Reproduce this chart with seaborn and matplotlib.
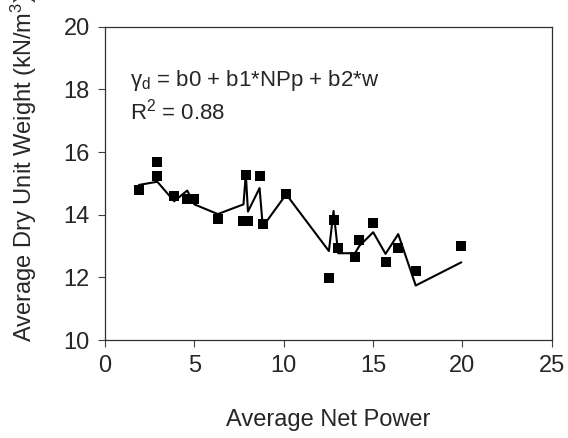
import pandas as pd
import seaborn as sns
import matplotlib.pyplot as plt

# measured points (Average Net Power vs Average Dry Unit Weight)
net_power = [1.9, 2.9, 2.93, 3.87, 4.6, 5.0, 6.31, 7.75, 7.88, 8.0, 8.65, 8.83,
             10.14, 12.53, 12.79, 13.05, 13.99, 14.23, 15.01, 15.7, 16.41, 17.39, 19.94]
dry_unit_weight = [14.8, 15.69, 15.22, 14.61, 14.5, 14.5, 13.85, 13.81, 15.26, 13.81, 15.24, 13.71,
                   14.67, 11.99, 13.82, 12.93, 12.64, 13.2, 13.73, 12.48, 12.95, 12.19, 13.01]
# fitted values from the regression model
predicted = [14.95, 15.05, 15.05, 14.43, 14.77, 14.33, 14.02, 14.33, 15.3, 14.1, 14.85, 13.62,
             14.65, 12.84, 14.12, 12.77, 12.77, 13.0, 13.44, 12.75, 13.38, 11.74, 12.48]

df = pd.DataFrame({'npp': net_power, 'gd': dry_unit_weight, 'pred': predicted})

sns.set_style('white')
plt.rcParams['font.family'] = ['Liberation Sans', 'DejaVu Sans']
plt.rcParams['mathtext.fontset'] = 'custom'
plt.rcParams['mathtext.rm'] = 'Liberation Sans'
plt.rcParams['mathtext.it'] = 'Liberation Sans'

fig = plt.figure(figsize=(5.68, 4.38), dpi=100)
ax = fig.add_axes([0.1849, 0.2237, 0.7864, 0.7153])

sns.scatterplot(data=df, x='npp', y='gd', marker='s', s=52, color='black',
                edgecolor='black', linewidth=0, ax=ax, zorder=3)
sns.lineplot(data=df, x='npp', y='pred', sort=False, color='black', lw=1.5,
             estimator=None, ax=ax, zorder=4)

ax.set_xlim(0, 25)
ax.set_ylim(10, 20)
ax.set_xticks(range(0, 26, 5))
ax.set_yticks(range(10, 21, 2))
ax.tick_params(axis='both', labelsize=17, length=5, width=0.8, color='#404040', pad=6,
               direction='out', bottom=True, left=True)
for sp in ax.spines.values():
    sp.set_color('#303030')
    sp.set_linewidth(0.9)

ax.set_xlabel('Average Net Power', fontsize=17, labelpad=23)
ax.set_ylabel('Average Dry Unit Weight (kN/m$^{3}$)', fontsize=17)
ax.yaxis.set_label_coords(-0.147, 0.549)

ax.text(1.4, 18.1, r'$\gamma_\mathrm{d}$ = b0 + b1*NPp + b2*w', fontsize=16)
ax.text(1.4, 17.05, r'R$^2$ = 0.88', fontsize=16)

fig.savefig('out.png', dpi=100)
